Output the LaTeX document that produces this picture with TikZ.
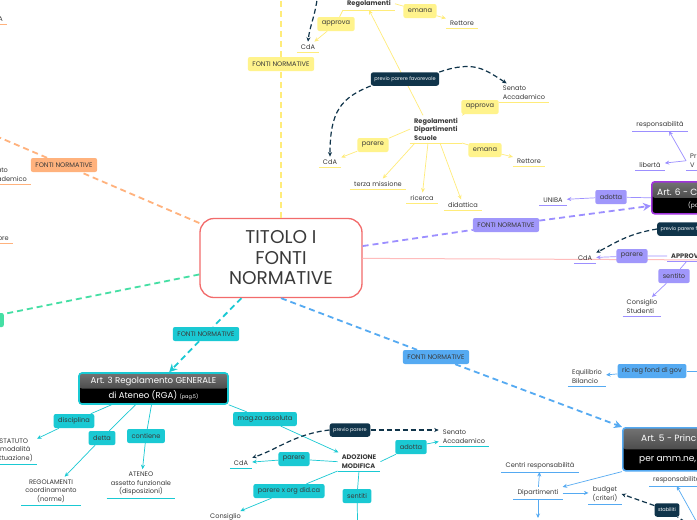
\documentclass[tikz,border=0pt]{standalone}
\usepackage{fontspec}
\setmainfont{Poppins}
\definecolor{mmInk}{HTML}{3A3A3A}
\definecolor{mmRed}{HTML}{F26B6B}
\definecolor{mmYel}{HTML}{FFF38C}
\definecolor{mmYelLn}{HTML}{FFEC7A}
\definecolor{mmOra}{HTML}{FFB27D}
\definecolor{mmGrn}{HTML}{45DFA4}
\definecolor{mmCya}{HTML}{1AC9D3}
\definecolor{mmBlu}{HTML}{55AAF2}
\definecolor{mmPur}{HTML}{A097FB}
\definecolor{mmPurLn}{HTML}{9C8FFF}
\definecolor{mmVio}{HTML}{A033DD}
\definecolor{mmPnk}{HTML}{FFBCBC}
\definecolor{mmNav}{HTML}{10344A}
\usetikzlibrary{arrows.meta,positioning,calc}

\begin{document}
\begin{tikzpicture}[
  x=1pt,y=-1pt,
  font=\fontsize{6.6}{8.5}\selectfont,
  >={Stealth[length=4.5pt,width=4pt]},
  hub/.style={draw=mmRed,line width=1.3pt,fill=white,rounded corners=14pt,
              minimum width=162pt,minimum height=79pt,align=center,text=mmInk,
              font=\fontsize{18.5}{20.5}\selectfont},
  tag/.style={fill=#1,rounded corners=2pt,minimum height=14pt,inner xsep=4.5pt,
              inner ysep=0pt,text=mmInk},
  rel/.style={fill=mmNav,rounded corners=2.5pt,minimum height=13.5pt,inner xsep=3.5pt,
              inner ysep=0pt,text=white,font=\fontsize{5}{6}\selectfont},
  leaf/.style={text=mmInk,inner xsep=4pt,inner ysep=2.5pt,align=left,
               append after command={(\tikzlastnode.south west) edge[draw=#1,line width=.9pt] (\tikzlastnode.south east)}},
  boldleaf/.style={leaf=#1,font=\fontsize{6.6}{8.5}\selectfont\bfseries},
  art/.style={draw=#1,line width=1.6pt,fill=black,rounded corners=3pt,
              path picture={\shade[top color=black!55,bottom color=black!85]
                (path picture bounding box.north west) rectangle (path picture bounding box.east);}},
  arttxt/.style={text=white,inner sep=0pt,font=\fontsize{9}{11}\selectfont},
  trunk/.style={line width=1.8pt,dash pattern=on 6pt off 4pt,#1},
  twig/.style={line width=.7pt,#1},
  reldash/.style={draw=mmNav,line width=1.2pt,dash pattern=on 5pt off 3pt}
]
\useasboundingbox (0,0) rectangle (697,520);
\clip (0,0) rectangle (697,520);
\fill[white] (0,0) rectangle (697,520);

\node[hub] (cen) at (281,258) {TITOLO I\\FONTI\\NORMATIVE};
\coordinate (offK) at (720,260);
\draw[line width=1pt,mmPnk] (cen) -- (offK);

\node[tag=mmYel] (fnY) at (281,64) {FONTI NORMATIVE};
\node[tag=mmOra] (fnO) at (64,165) {FONTI NORMATIVE};
\node[tag=mmCya] (fnC) at (206,334) {FONTI NORMATIVE};
\node[tag=mmBlu] (fnB) at (436,357) {FONTI NORMATIVE};
\node[tag=mmPur] (fnP) at (506,225) {FONTI NORMATIVE};
\node[tag=mmGrn,minimum width=60pt,anchor=east] (fnG) at (4,320) {};

\node[boldleaf=mmYelLn,anchor=south] (regY) at (369,10) {Regolamenti};
\node[leaf=mmYelLn,anchor=south] (cdaY1) at (308,52) {CdA};
\node[leaf=mmYelLn,anchor=south] (retY1) at (462,28) {Rettore};
\node[boldleaf=mmYelLn,anchor=south] (rdsY) at (436,143) {Regolamenti\\Dipartimenti\\Scuole};
\node[leaf=mmYelLn,anchor=south] (senY) at (524,102) {Senato\\Accademico};
\node[leaf=mmYelLn,anchor=south] (retY2) at (529,166) {Rettore};
\node[leaf=mmYelLn,anchor=south] (cdaY2) at (330,167) {CdA};
\node[leaf=mmYelLn,anchor=south] (terY) at (378,189) {terza missione};
\node[leaf=mmYelLn,anchor=south] (ricY) at (422,203) {ricerca};
\node[leaf=mmYelLn,anchor=south] (didY) at (463,210) {didattica};
\node[tag=mmYel] (apY1) at (336,24) {approva};
\node[tag=mmYel] (emY1) at (420,11) {emana};
\node[tag=mmYel] (apY2) at (480,107) {approva};
\node[tag=mmYel] (emY2) at (485,150) {emana};
\node[tag=mmYel] (paY) at (373,145) {parere};
\coordinate (offY) at (281,-20);
\coordinate (upY) at (318,-15);

\draw[twig=mmYelLn] (regY.south west) -- (apY1);
\draw[twig=mmYelLn,->] (apY1) -- (cdaY1);
\draw[twig=mmYelLn] (regY.east) -- (emY1);
\draw[twig=mmYelLn,->] (emY1) -- (retY1);
\draw[twig=mmYelLn,->] ([xshift=-13pt]rdsY.north) -- (regY.south);
\draw[twig=mmYelLn] (rdsY.north east) -- (apY2);
\draw[twig=mmYelLn] (apY2) -- (senY.south west);
\draw[twig=mmYelLn] (rdsY.south east) -- (emY2);
\draw[twig=mmYelLn,->] (emY2) -- (retY2);
\draw[twig=mmYelLn] (rdsY.west) -- (paY);
\draw[twig=mmYelLn,->] (paY) -- (cdaY2);
\foreach \dx/\leafname in {-21/terY,-8/ricY,4/didY}
  \draw[twig=mmYelLn,->] ([xshift=\dx pt]rdsY.south) -- (\leafname);
\node[rel] (pfY) at (405,79) {previo parere favorevole};
\draw[reldash,->] (upY) .. controls +(0,25) and +(2,-18) .. (cdaY1.north);
\draw[reldash,->] (pfY.south west) .. controls +(-30,12) and +(0,-45) .. (cdaY2.north);
\draw[reldash,->] (pfY.north east) .. controls +(35,-12) and +(-22,-14) .. ([xshift=8pt]senY.north west);

\node[leaf=mmOra,anchor=south east] (senO) at (31,184) {Senato\\Accademico};
\node[leaf=mmOra,anchor=south east] (retO) at (13,243) {Rettore};
\node[leaf=mmOra,anchor=south east] (cdaO) at (7,24) {CdA};
\coordinate (offO) at (-30,125);
\coordinate (upO) at (-25,140);
\draw[reldash,->] (upO) -- ([xshift=-6pt]senO.north);

\node[art=mmCya,minimum width=149pt,minimum height=31pt,align=center,text=white,
      inner sep=0pt,font=\fontsize{8.6}{14.5}\selectfont] (art3) at (153.5,388.5)
      {Art. 3 Regolamento GENERALE\\di Ateneo (RGA) {\fontsize{5}{6}\selectfont(pag.5)}};
\node[leaf=mmCya,anchor=south east,align=center] (stC) at (37,464) {STATUTO\\(modalità\\attuazione)};
\node[leaf=mmCya,anchor=south,align=center] (regC) at (51,505) {REGOLAMENTI\\coordinamento\\(norme)};
\node[leaf=mmCya,anchor=south,align=center] (atC) at (141,498) {ATENEO\\assetto funzionale\\(disposizioni)};
\node[boldleaf=mmCya,anchor=south] (adC) at (359,471) {ADOZIONE\\MODIFICA};
\node[leaf=mmCya,anchor=south] (senC) at (464,446) {Senato\\Accademico};
\node[leaf=mmCya,anchor=south] (cdaC) at (241,468) {CdA};
\node[leaf=mmCya,anchor=north west] (conC) at (206,511) {Consiglio};
\node[tag=mmCya] (diC) at (74,421) {disciplina};
\node[tag=mmCya] (deC) at (102,438) {detta};
\node[tag=mmCya] (coC) at (146,436) {contiene};
\node[tag=mmCya] (mgC) at (265,419) {mag.za assoluta};
\node[tag=mmCya] (adoC) at (411,447) {adotta};
\node[tag=mmCya] (paC) at (294,459) {parere};
\node[tag=mmCya] (pxC) at (289,491) {parere x org did.ca};
\node[tag=mmCya] (seC) at (357,496) {sentiti};
\node[rel] (ppC) at (350,430) {previo parere};
\coordinate (dnC) at (358,540);

\draw[twig=mmCya] ([xshift=-42pt]art3.south) -- (diC);
\draw[twig=mmCya,->] (diC) -- (stC);
\draw[twig=mmCya] ([xshift=-18pt]art3.south) -- (deC);
\draw[twig=mmCya,->] (deC) -- (regC);
\draw[twig=mmCya] ([xshift=-2pt]art3.south) -- (coC);
\draw[twig=mmCya,->] (coC) -- (atC);
\draw[twig=mmCya] (art3.south east) -- (mgC);
\draw[twig=mmCya,->] (mgC) -- (adC);
\draw[twig=mmCya] (adC.east) -- (adoC);
\draw[twig=mmCya,->] (adoC) -- (senC);
\draw[twig=mmCya] (adC.west) -- (paC);
\draw[twig=mmCya,->] (paC) -- (cdaC);
\draw[twig=mmCya] (adC.south west) -- (pxC);
\draw[twig=mmCya,->] (pxC) -- (conC);
\draw[twig=mmCya] (adC.south) -- (seC) -- (dnC);
\draw[reldash,->] (ppC.west) .. controls +(-35,4) and +(25,-8) .. (cdaC.north east);
\draw[reldash,->] (ppC.east) -- (senC.west |- ppC.east);

\node[art=mmBlu,anchor=north west,minimum width=130pt,minimum height=43pt] (art5) at (622,427) {};
\node[arttxt,anchor=west] (a5top) at (641,438) {Art. 5 - Princ};
\node[arttxt,anchor=west] (a5bot) at (639,460) {per amm.ne,};
\node[leaf=mmBlu,anchor=south] (eqB) at (587,386) {Equilibrio\\Bilancio};
\node[leaf=mmBlu,anchor=south] (dipB) at (538,499) {Dipartimenti};
\node[leaf=mmBlu,anchor=south] (ceB) at (540,472) {Centri responsabilità};
\node[leaf=mmBlu,anchor=south,align=center] (buB) at (605,504) {budget\\(criteri)};
\node[leaf=mmBlu,anchor=south west] (reB) at (649,486) {responsabilità};
\node[tag=mmBlu] (rrB) at (652,371) {ric reg fond di gov};
\node[rel] (stB) at (667,510) {stabiliti};
\coordinate (offB) at (720,371);
\coordinate (dnB) at (538,518);
\coordinate (offS) at (705,535);
\coordinate (offR) at (700,528);

\draw[twig=mmBlu] (offB) -- (rrB);
\draw[twig=mmBlu,->] (rrB) -- (eqB);
\draw[twig=mmBlu,->] (art5.south west) -- ([yshift=6pt]dipB.east);
\draw[twig=mmBlu,->] (dipB) -- (ceB);
\draw[twig=mmBlu,->] (dipB.east) -- (buB.west |- dipB.east);
\draw[twig=mmBlu,->] (dipB.south) -- (dnB);
\draw[twig=mmBlu,->] (offR) -- (reB.south);
\draw[reldash] (offS) -- (stB);
\draw[reldash,->] (stB) -- (buB.east);

\node[art=mmVio,anchor=north west,minimum width=110pt,minimum height=32pt] (art6) at (651,181) {};
\node[arttxt,anchor=west] (a6top) at (657,192) {Art. 6 - Co};
\node[arttxt,anchor=west,font=\fontsize{6}{7}\selectfont] (a6bot) at (688,205) {(pa};
\node[leaf=mmPurLn,anchor=south] (unP) at (553,205) {UNIBA};
\node[leaf=mmPurLn,anchor=south] (rsP) at (660,131) {responsabilità};
\node[leaf=mmPurLn,anchor=south] (lbP) at (650,170) {libertà};
\node[leaf=mmPurLn,anchor=south west] (prP) at (686,170) {Pr\\V};
\node[leaf=mmPurLn,anchor=south] (cdP) at (585,263) {CdA};
\node[boldleaf=mmPurLn,anchor=south west] (apP) at (667,261) {APPROVAZIONE};
\node[leaf=mmPurLn,anchor=south] (csP) at (642,316) {Consiglio\\Studenti};
\node[tag=mmPur] (adP) at (611,197) {adotta};
\node[tag=mmPur] (paP) at (632,256) {parere};
\node[tag=mmPur] (snP) at (674,276) {sentito};
\node[rel,anchor=west] (ppP) at (657,229) {previo parere favorevole};

\draw[twig=mmPurLn] (art6.west) -- (adP);
\draw[twig=mmPurLn,->] (adP) -- (unP);
\draw[twig=mmPurLn,->] (prP.west) -- ([xshift=9pt]rsP.south);
\draw[twig=mmPurLn,->] (prP.west) -- (lbP);
\draw[twig=mmPurLn] (apP.west) -- (paP);
\draw[twig=mmPurLn,->] (paP) -- (cdP);
\draw[twig=mmPurLn] ([xshift=20pt]apP.south west) -- (snP);
\draw[twig=mmPurLn,->] (snP) -- (csP);
\draw[reldash,->] (ppP.west) .. controls +(-30,5) and +(20,-10) .. (cdP.north east);

\draw[trunk=mmYelLn] (cen) -- (fnY) -- (offY);
\draw[trunk=mmOra] (cen) -- (fnO) -- (offO);
\draw[trunk=mmGrn] (cen) -- (fnG);
\draw[trunk=mmCya,-{Stealth[length=8pt,width=8pt]}] (cen) -- (fnC) -- (art3);
\draw[trunk=mmBlu,-{Stealth[length=8pt,width=8pt]}] (cen.south) -- (fnB) -- (art5.north west);
\draw[trunk=mmPurLn,-{Stealth[length=8pt,width=8pt]}] (cen) -- (fnP) -- ([yshift=-8pt]art6.west);
\end{tikzpicture}
\end{document}
